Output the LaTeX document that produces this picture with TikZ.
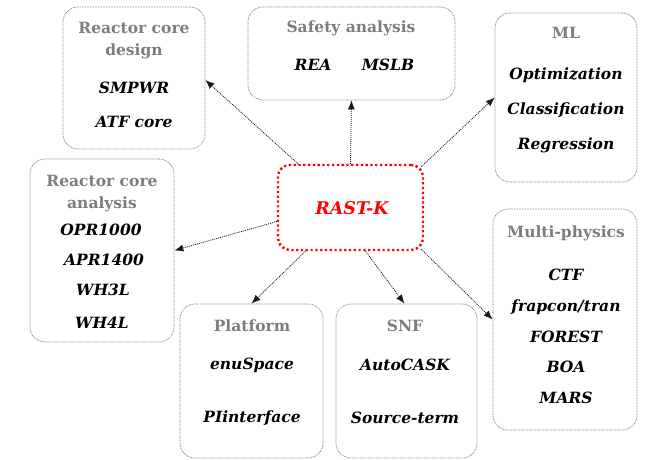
\documentclass[tikz,border=0pt]{standalone}
\usepackage{fontspec}
\setmainfont{DejaVu Serif}
\usetikzlibrary{arrows.meta}
\definecolor{titlegray}{RGB}{125,125,125}
\definecolor{boxgray}{RGB}{120,120,120}
\tikzset{
  panel/.style={draw=boxgray, dash pattern=on 0.8pt off 0.8pt, line width=0.7pt, rounded corners=15pt, inner sep=0pt},
  core/.style={draw=red, line width=2.4pt, dash pattern=on 2.2pt off 2.6pt, rounded corners=12pt, inner sep=0pt, minimum width=145pt, minimum height=85pt},
  ttl/.style={font=\fontsize{15.5}{22}\selectfont\bfseries, text=titlegray, align=center, inner sep=0pt},
  itm/.style={font=\fontsize{15.5}{17}\selectfont\bfseries\itshape, text=black, inner sep=0pt},
  arr/.style={draw=black!90, dash pattern=on 1pt off 1pt, line width=0.8pt, -{Latex[length=9pt,width=7pt]}},
}
\begin{document}
\begin{tikzpicture}[x=1pt,y=1pt]
\useasboundingbox (0,0) rectangle (646,459);
% panels
\node[panel, minimum width=142pt, minimum height=142pt] (design) at (134,381) {};
\node[panel, minimum width=207pt, minimum height=93pt] (safety) at (351.5,405.5) {};
\node[panel, minimum width=142pt, minimum height=169pt] (ml) at (566,361.5) {};
\node[panel, minimum width=144pt, minimum height=183pt] (analysis) at (102,208.5) {};
\node[panel, minimum width=143pt, minimum height=154pt] (platform) at (251.5,78) {};
\node[panel, minimum width=141pt, minimum height=154pt] (snf) at (406.5,78) {};
\node[panel, minimum width=144pt, minimum height=221pt] (multi) at (565,139.5) {};
\node[core] (rast) at (350.5,251.5) {};
\node[font=\fontsize{17.5}{20}\selectfont\bfseries\itshape, text=red, inner sep=0pt] (rastlbl) at (352,251) {RAST-K};
% texts: design
\node[ttl] (t1) at (134,418.5) {Reactor core\\design};
\node[itm] (d1) at (134,371) {SMPWR};
\node[itm] (d2) at (134,337) {ATF core};
% safety
\node[ttl] (t2) at (351,431) {Safety analysis};
\node[itm] (s1) at (313,394) {REA};
\node[itm] (s2) at (388,394) {MSLB};
% ml
\node[ttl] (t3) at (566,426) {ML};
\node[itm] (m1) at (566,384) {Optimization};
\node[itm] (m2) at (566,349) {Classification};
\node[itm] (m3) at (566,314) {Regression};
% analysis
\node[ttl] (t4) at (102,265) {Reactor core\\analysis};
\node[itm] (a1) at (101,229) {OPR1000};
\node[itm] (a2) at (104,199) {APR1400};
\node[itm] (a3) at (103,169) {WH3L};
\node[itm] (a4) at (102,136) {WH4L};
% platform
\node[ttl] (t5) at (252,133) {Platform};
\node[itm] (p1) at (252,94) {enuSpace};
\node[itm] (p2) at (252,41) {PIinterface};
% snf
\node[ttl] (t6) at (405,133) {SNF};
\node[itm] (n1) at (405,94) {AutoCASK};
\node[itm] (n2) at (405,41) {Source-term};
% multi
\node[ttl] (t7) at (566,226) {Multi-physics};
\node[itm] (u1) at (566,184) {CTF};
\node[itm] (u2) at (566,152) {frapcon/tran};
\node[itm] (u3) at (566,122) {FOREST};
\node[itm] (u4) at (566,92) {BOA};
\node[itm] (u5) at (566,61) {MARS};
% connector anchors
\coordinate (c1) at ([xshift=-52.5pt]rast.north);
\coordinate (e1) at ([yshift=-2pt]design.east);
\coordinate (c3) at ([xshift=-3pt,yshift=-3pt]rast.north east);
\coordinate (c4) at ([yshift=-14pt]rast.west);
\coordinate (c5) at ([xshift=-45pt]rast.south);
\coordinate (c6) at ([xshift=15pt]rast.south);
\coordinate (e6) at ([xshift=-2pt]snf.north);
\coordinate (c7) at ([xshift=-3pt,yshift=2pt]rast.south east);
% connectors
\draw[arr] (c1) -- (e1);
\draw[arr] (rast.north) -- (safety.south);
\draw[arr] (c3) -- (ml.west);
\draw[arr] (c4) -- (analysis.east);
\draw[arr] (c5) -- (platform.north);
\draw[arr] (c6) -- (e6);
\draw[arr] (c7) -- (multi.west);
\end{tikzpicture}
\end{document}
